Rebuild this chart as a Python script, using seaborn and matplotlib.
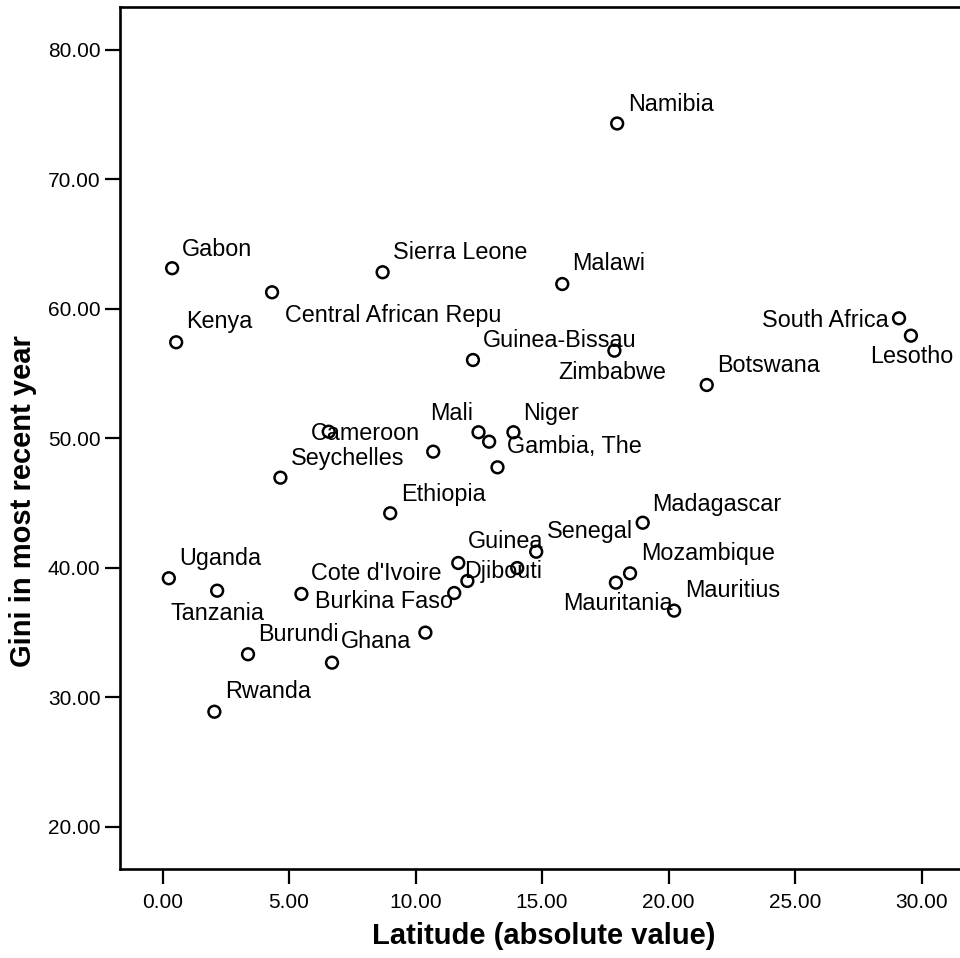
import matplotlib
matplotlib.use("Agg")
import matplotlib.pyplot as plt
import seaborn as sns
import pandas as pd

# Countries (blank name = point drawn without a label)
countries = [
    "Namibia", "Gabon", "Sierra Leone", "Malawi", "Central African Repu",
    "Kenya", "South Africa", "Lesotho", "Guinea-Bissau", "Zimbabwe",
    "Botswana", "Cameroon", "", "Mali", "",
    "Niger", "Gambia, The", "Seychelles", "Ethiopia", "Madagascar",
    "Senegal", "", "Guinea", "Burkina Faso", "Djibouti",
    "Mozambique", "Mauritania", "Mauritius", "Uganda", "Tanzania",
    "Cote d'Ivoire", "", "Burundi", "Ghana", "Rwanda",
]

# Latitude (absolute value)
latitude = [
    17.97, 0.38, 8.70, 15.80, 4.33,
    0.54, 29.11, 29.58, 12.27, 17.86,
    21.51, 6.57, 10.70, 12.49, 12.91,
    13.87, 13.24, 4.66, 9.00, 18.98,
    14.77, 14.02, 11.69, 12.05, 11.53,
    18.48, 17.92, 20.22, 0.25, 2.16,
    5.49, 10.39, 3.38, 6.70, 2.05,
]

# Gini in most recent year
gini = [
    74.32, 63.14, 62.83, 61.92, 61.28,
    57.42, 59.27, 57.93, 56.05, 56.77,
    54.12, 50.51, 48.97, 50.47, 49.74,
    50.47, 47.76, 46.96, 44.21, 43.48,
    41.24, 39.98, 40.37, 38.98, 38.05,
    39.57, 38.85, 36.69, 39.19, 38.23,
    37.98, 34.99, 33.32, 32.67, 28.88,
]

x_ticks = [0, 5, 10, 15, 20, 25, 30]
y_ticks = [20, 30, 40, 50, 60, 70, 80]

# Label placement: (dx, dy) in pixels from the marker to the label's
# left/baseline corner, screen-down positive
label_offsets = [
    (11, -12), (10, -12.3), (10, -13), (10, -14), (12.6, 29.4),
    (10.3, -14), (-137, 8.4), (-40.3, 27.6), (9.6, -13.3), (-56, 28.6),
    (10, -13.3), (-17.6, 8.3), (0, 0), (-48, -12.3), (0, 0),
    (10, -12.3), (10, -14), (10, -12.7), (11, -12.3), (9, -12),
    (10.7, -13.4), (0, 0), (9.3, -14.7), (-152, 27.3), (10, -14.7),
    (10.7, -13.3), (-53, 27.3), (11, -13.4), (10, -13.3), (-46.7, 29.3),
    (9.7, -14), (0, 0), (10, -13.6), (9, -14.4), (10.3, -13.4),
]

df = pd.DataFrame({"country": countries, "lat": latitude, "gini": gini})

sns.set_theme(style="white")
plt.rcParams["font.family"] = ["Liberation Sans", "DejaVu Sans"]
plt.rcParams["text.color"] = "black"
plt.rcParams["axes.labelcolor"] = "black"
plt.rcParams["xtick.color"] = "black"
plt.rcParams["ytick.color"] = "black"

fig = plt.figure(figsize=(9.6, 9.58), dpi=100)
ax = fig.add_axes([0.125, 0.0929, 0.875, 0.8998])

sns.scatterplot(
    data=df, x="lat", y="gini", ax=ax, marker="o", s=72,
    facecolor="none", edgecolor="black", linewidth=1.8, zorder=3,
)

for name, xv, yv, (dx, dy) in zip(countries, latitude, gini, label_offsets):
    if not name:
        continue
    ax.annotate(
        name, (xv, yv), xytext=(dx, -dy), textcoords="offset pixels",
        ha="left", va="baseline", fontsize=16.8, color="black",
    )

ax.set_xlim(-1.68, 31.52)
ax.set_ylim(16.73, 83.32)
ax.set_xticks(x_ticks)
ax.set_yticks(y_ticks)
ax.set_xticklabels([f"{v:.2f}" for v in x_ticks])
ax.set_yticklabels([f"{v:.2f}" for v in y_ticks])

for side in ("left", "bottom", "top"):
    ax.spines[side].set_visible(True)
    ax.spines[side].set_color("black")
    ax.spines[side].set_linewidth(1.9)
ax.spines["right"].set_visible(False)

ax.tick_params(axis="both", which="major", direction="out", length=11,
               width=1.6, color="black", labelsize=15, labelcolor="black",
               left=True, bottom=True)
ax.tick_params(axis="y", pad=3)
ax.tick_params(axis="x", pad=6)

ax.set_xlabel("Latitude (absolute value)", fontsize=21, fontweight="bold",
              color="black")
ax.set_ylabel("Gini in most recent year", fontsize=21, fontweight="bold",
              color="black")
ax.xaxis.set_label_coords(0.505, -0.0615)
ax.yaxis.set_label_coords(-0.099, 0.427)

fig.savefig("out.png", dpi=100)
